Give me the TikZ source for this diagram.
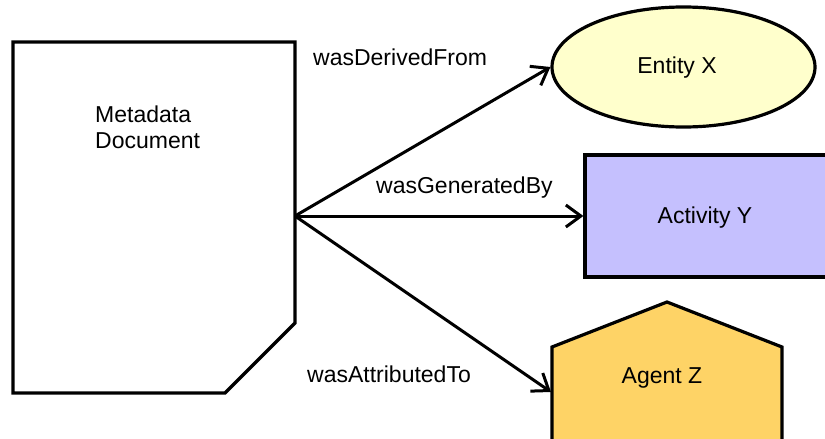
\documentclass[tikz,border=0pt]{standalone}
\usepackage{fontspec}
\setmainfont{Liberation Sans}
\usetikzlibrary{arrows.meta,shapes.geometric}

\definecolor{entityfill}{HTML}{FFFFCC}
\definecolor{activityfill}{HTML}{C5C0FE}
\definecolor{agentfill}{HTML}{FED366}

\tikzset{
  outline/.style={draw=black, line width=3.2pt, line join=miter},
  txt/.style={font=\fontsize{23}{26}\selectfont, inner sep=0pt},
  relation/.style={draw=black, line width=3pt,
    -{Straight Barb[length=15pt, width=22pt, line width=3pt]}},
}

\begin{document}
\begin{tikzpicture}[x=1pt, y=-1pt]
\useasboundingbox (0,0) rectangle (825,439);
\clip (0,0) rectangle (825,439);

% metadata document with a cut lower-right corner
\draw[outline, fill=white] (13,42) -- (295,42) -- (295,323) -- (225,393)
  -- (13,393) -- cycle;
\node[txt, anchor=base west, align=left] (doc) at (95,148)
  {Metadata\\Document};
\coordinate (hub) at (295,216);

% entity
\node[outline, fill=entityfill, ellipse, minimum width=263pt,
  minimum height=120pt, inner sep=0pt] (entity) at (683.5,67) {};
\node[txt, anchor=base] (entitylabel) at (677,73) {Entity X};

% activity
\node[outline, fill=activityfill, rectangle, minimum width=245pt,
  minimum height=122pt, inner sep=0pt] (activity) at (707.5,216) {};
\node[txt, anchor=base] (activitylabel) at (705,223) {Activity Y};

% agent (house-shaped pentagon)
\draw[outline, fill=agentfill] (552,450) -- (552,347) -- (667,302)
  -- (782,347) -- (782,450);
\node[txt, anchor=base] (agent) at (662,383) {Agent Z};
\coordinate (agentin) at (551,392);

% relations
\draw[relation] (hub) -- (entity.west);
\draw[relation] (hub) -- (activity.west);
\draw[relation] (hub) -- (agentin);

% relation labels
\node[txt, anchor=base west] (derived) at (313,65) {wasDerivedFrom};
\node[txt, anchor=base west] (generated) at (376,193) {wasGeneratedBy};
\node[txt, anchor=base west] (attributed) at (307,382) {wasAttributedTo};
\end{tikzpicture}
\end{document}
